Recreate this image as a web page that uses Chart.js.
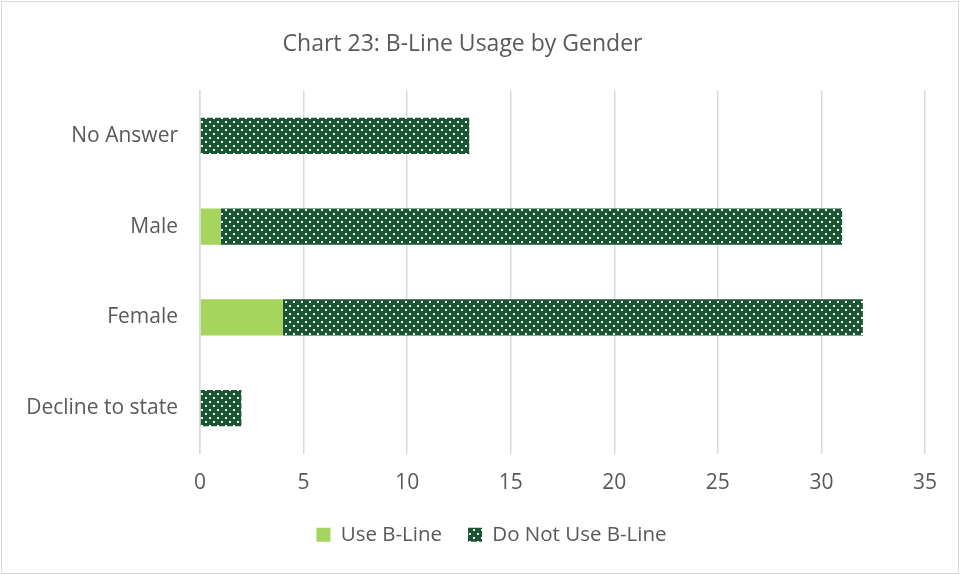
<!DOCTYPE html>
<html>
<head>
<meta charset="utf-8">
<script src="https://cdn.jsdelivr.net/npm/chart.js@4/dist/chart.umd.min.js"></script>
<style>
    html, body { margin: 0; padding: 0; background: #fff; }
    #wrap { width: 960px; height: 575px; position: relative; }
</style>
</head>
<body>
<div id="wrap"><canvas id="grafico"></canvas></div>
<script>
const categorias = ['No Answer', 'Male', 'Female', 'Decline to state'];
const usaBLine = [0, 1, 4, 0];
const noUsaBLine = [13, 30, 28, 2];
const ticksX = [0, 5, 10, 15, 20, 25, 30, 35];

const VERDE_CLARO = '#a6d55e';
const VERDE_OSCURO = '#1b5632';
const GRIS_TEXTO = '#595959';
const FUENTE = '"Open Sans", "Liberation Sans", sans-serif';

// patron de puntos blancos sobre verde oscuro
function crearPatron() {
    const c = document.createElement('canvas');
    c.width = 8;
    c.height = 8;
    const ctx = c.getContext('2d');
    ctx.fillStyle = VERDE_OSCURO;
    ctx.fillRect(0, 0, 8, 8);
    ctx.fillStyle = '#ffffff';
    ctx.fillRect(1, 1, 2, 2);
    ctx.fillRect(5, 5, 2, 2);
    return ctx.createPattern(c, 'repeat');
}

const patron = crearPatron();

const bordePlugin = {
    id: 'borde',
    beforeDraw: function (chart) {
        const ctx = chart.ctx;
        ctx.save();
        ctx.fillStyle = '#ffffff';
        ctx.fillRect(0, 0, chart.width, chart.height);
        ctx.strokeStyle = '#d9d9d9';
        ctx.lineWidth = 1;
        ctx.strokeRect(1.5, 1.5, chart.width - 3, chart.height - 3);
        ctx.restore();
    }
};

// la leyenda del original queda un poco a la derecha del centro
const moverLeyendaPlugin = {
    id: 'moverLeyenda',
    afterLayout: function (chart) {
        const leyenda = chart.legend;
        if (!leyenda) return;
        leyenda.left += 29;
        leyenda.right += 29;
    }
};

new Chart(document.getElementById('grafico').getContext('2d'), {
    type: 'bar',
    data: {
        labels: categorias,
        datasets: [
            {
                label: 'Use B-Line',
                data: usaBLine,
                backgroundColor: VERDE_CLARO,
                borderWidth: 0
            },
            {
                label: 'Do Not Use B-Line',
                data: noUsaBLine,
                backgroundColor: patron,
                borderWidth: 0
            }
        ]
    },
    plugins: [bordePlugin, moverLeyendaPlugin],
    options: {
        indexAxis: 'y',
        responsive: true,
        maintainAspectRatio: false,
        animation: false,
        categoryPercentage: 1,
        barPercentage: 0.4,
        layout: {
            padding: { left: 0, right: 35, top: 0, bottom: 20 }
        },
        scales: {
            x: {
                stacked: true,
                min: 0,
                max: 35,
                afterBuildTicks: function (scale) {
                    scale.ticks = ticksX.map(function (v) { return { value: v }; });
                },
                afterFit: function (scale) {
                    scale.height = 45;
                },
                grid: {
                    color: '#d9d9d9',
                    lineWidth: 1.5,
                    drawTicks: false
                },
                border: { display: false },
                ticks: {
                    color: GRIS_TEXTO,
                    font: { family: FUENTE, size: 21 },
                    padding: 17
                }
            },
            y: {
                stacked: true,
                afterFit: function (scale) {
                    scale.width = 200;
                },
                grid: { display: false, drawTicks: false },
                border: { display: true, color: '#d9d9d9', width: 1.5 },
                ticks: {
                    color: GRIS_TEXTO,
                    font: { family: FUENTE, size: 21 },
                    padding: 22
                }
            }
        },
        plugins: {
            title: {
                display: true,
                text: 'Chart 23: B-Line Usage by Gender',
                color: GRIS_TEXTO,
                font: { family: FUENTE, size: 23, weight: 'normal' },
                padding: { top: 31, bottom: 32 }
            },
            legend: {
                position: 'bottom',
                labels: {
                    color: GRIS_TEXTO,
                    font: { family: FUENTE, size: 20.5 },
                    boxWidth: 14,
                    boxHeight: 14,
                    padding: 26
                }
            },
            tooltip: { enabled: false }
        }
    }
});
</script>
</body>
</html>
